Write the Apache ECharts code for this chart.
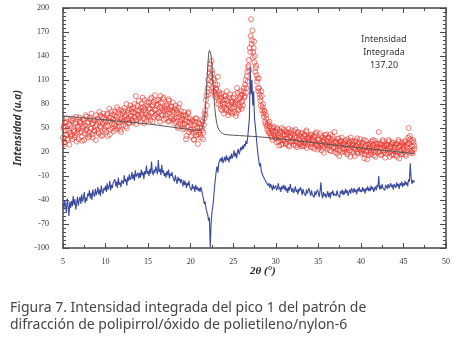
<!DOCTYPE html>
<html>
<head>
<meta charset="utf-8">
<script src="https://cdn.jsdelivr.net/npm/echarts@6/dist/echarts.min.js"></script>
<style>
  html, body { margin: 0; padding: 0; background: #fff; }
  #chart { width: 456px; height: 345px; }
</style>
</head>
<body>
<div id="chart"></div>
<script>
// rejilla de 2θ: los puntos van cada 0.1 grados desde 5.0
var xStart = 5.0;
var xStep = 0.1;
var xTicks = [5, 10, 15, 20, 25, 30, 35, 40, 45, 50];
var yTicks = [-100, -70, -40, -10, 20, 50, 80, 110, 140, 170, 200];

// circulos rojos (dos pasadas, la segunda desplazada 0.05)
var redA = [
  38,52,30,47,58,41,35,55,44,60,
  50,36,62,45,41,57,33,52,48,63,
  44,58,39,61,50,35,53,47,64,42,
  57,40,63,49,55,38,60,46,52,66,
  48,62,43,58,66,51,40,57,63,47,
  60,45,68,52,63,42,58,71,50,61,
  55,70,48,64,58,73,52,66,45,62,
  68,54,75,60,66,50,72,62,57,78,
  61,74,57,70,80,63,55,72,66,84,
  72,58,80,65,76,62,85,70,59,78,
  66,82,74,60,88,70,79,63,91,72,
  78,64,85,70,58,82,75,66,88,71,
  74,62,80,68,86,59,73,77,64,82,
  70,56,78,63,72,50,68,80,58,66,
  62,48,70,55,66,40,58,68,45,62,
  55,40,60,48,35,58,45,62,50,42,
  45,55,38,50,58,44,62,72,85,78,
  100,92,118,130,108,122,100,112,95,104,
  98,88,114,84,92,78,88,72,85,68,
  80,90,74,84,66,78,92,70,82,75,
  88,70,80,65,84,94,72,86,77,90,
  74,84,96,88,104,94,115,108,128,122,
  145,186,160,138,150,132,120,128,108,100,
  112,92,84,96,72,80,64,70,55,62,
  48,56,44,52,40,47,35,50,42,38,
  45,32,48,38,28,44,36,50,30,42,
  34,46,30,41,37,49,27,40,44,33,
  42,29,38,48,33,26,45,36,31,43,
  30,44,37,27,40,33,47,29,38,35,
  38,26,42,31,35,24,40,30,45,28,
  27,36,43,30,22,38,33,26,41,29,
  34,24,38,28,42,21,32,36,26,45,
  25,33,18,30,37,22,28,34,20,31,
  30,20,35,24,17,29,33,22,38,26,
  21,31,25,15,34,27,20,30,24,36,
  28,18,32,22,12,26,34,20,29,16,
  22,30,17,27,35,20,25,14,31,24,
  27,45,20,30,16,25,33,19,28,22,
  18,29,24,33,14,27,21,31,17,26,
  25,16,30,20,35,12,27,22,32,18,
  28,20,34,15,26,31,50,24,36,19,
  27,18,32,24
];
var redB = [
  50,33,56,42,62,37,48,29,53,40,
  42,59,47,38,55,64,44,51,36,58,
  56,46,34,52,60,43,66,49,57,38,
  45,61,50,68,42,56,47,59,35,54,
  60,45,70,52,41,64,55,68,49,58,
  52,66,40,59,74,48,63,55,67,46,
  66,52,60,76,50,69,57,48,72,59,
  58,71,64,52,80,61,69,56,74,65,
  70,59,76,64,68,90,60,78,71,62,
  64,76,68,88,72,56,74,67,82,63,
  75,64,86,69,78,58,82,73,66,84,
  68,80,62,76,90,67,73,86,60,77,
  66,78,71,58,84,69,62,76,72,60,
  62,74,58,69,52,76,64,55,71,60,
  55,66,50,60,36,63,52,70,57,48,
  48,58,44,36,54,62,41,52,30,56,
  51,42,60,47,36,54,68,66,90,95,
  110,104,125,115,134,118,96,110,90,100,
  92,104,80,95,86,74,93,80,76,90,
  86,72,96,80,70,88,76,85,68,83,
  76,92,82,68,100,80,74,88,96,82,
  92,78,100,90,110,100,120,126,135,150,
  165,155,172,145,158,140,125,116,112,96,
  100,88,78,90,76,68,72,58,66,52,
  54,46,58,43,50,38,45,52,40,46,
  37,50,41,33,47,39,29,45,35,48,
  42,31,45,36,28,44,39,33,47,35,
  33,46,40,28,38,44,30,41,35,27,
  39,28,34,42,31,45,25,37,32,40,
  30,41,35,26,39,33,43,29,36,23,
  35,25,31,40,28,34,19,37,30,42,
  27,38,31,22,35,29,40,25,33,20,
  32,23,36,27,15,33,29,38,24,30,
  23,33,28,19,36,25,31,14,29,34,
  29,19,33,23,28,37,18,26,32,22,
  20,31,24,35,17,28,22,11,30,25,
  27,19,33,23,29,16,34,21,26,30,
  20,31,25,17,29,35,22,27,13,30,
  28,21,35,19,25,30,16,32,22,29,
  21,30,14,26,33,20,28,17,30,25,
  23,32,17,29,22,38,30,40,21,33,
  22,35,28
];

// linea azul (diferencia)
var blue = [
  -44,-52,-40,-48,-56,-38,-47,-60,-42,-50,
  -41,-48,-35,-46,-39,-52,-44,-36,-47,-40,
  -36,-45,-33,-42,-38,-30,-44,-37,-41,-32,
  -35,-28,-38,-31,-40,-27,-33,-36,-26,-34,
  -30,-24,-33,-27,-35,-22,-29,-32,-25,-28,
  -22,-30,-19,-27,-24,-16,-28,-21,-25,-18,
  -20,-14,-23,-17,-25,-12,-21,-18,-24,-15,
  -13,-20,-9,-17,-14,-22,-11,-16,-8,-15,
  -12,-5,-14,-8,-16,-3,-11,-9,-6,-13,
  -6,-12,-2,-9,-5,-14,-4,-8,3,-7,
  -4,-10,-1,-7,8,-5,-9,-2,-6,2,
  -3,-8,10,-5,-1,-9,4,-6,-3,-10,
  -6,-12,-4,-9,-2,-13,-7,-10,-5,-11,
  -12,-17,-9,-15,-20,-11,-16,-13,-19,-14,
  -18,-23,-15,-21,-17,-25,-19,-22,-16,-24,
  -22,-28,-20,-26,-23,-30,-21,-27,-24,-29,
  -25,-30,-24,-28,-34,-38,-45,-42,-50,-55,
  -58,-66,-62,-100,-70,-55,-48,-38,-24,-14,
  -4,2,-6,6,4,12,8,14,6,10,
  14,8,16,10,13,7,15,11,18,12,
  16,22,14,19,12,20,24,17,21,26,
  22,28,24,30,27,34,30,38,50,62,
  125,92,110,78,96,62,52,40,28,18,
  10,2,6,-4,-2,-10,-8,-14,-12,-18,
  -17,-22,-19,-25,-20,-23,-28,-21,-26,-24,
  -22,-28,-25,-19,-27,-24,-30,-23,-26,-21,
  -27,-22,-29,-25,-31,-24,-28,-20,-26,-30,
  -25,-31,-28,-23,-30,-27,-33,-26,-29,-24,
  -28,-34,-26,-31,-29,-35,-27,-32,-30,-25,
  -30,-35,-28,-33,-31,-37,-29,-34,-32,-27,
  -31,-36,-29,-18,-33,-38,-30,-35,-32,-37,
  -34,-29,-36,-31,-38,-30,-33,-28,-35,-32,
  -30,-35,-28,-33,-31,-37,-29,-32,-27,-34,
  -29,-33,-26,-31,-28,-35,-30,-27,-32,-25,
  -28,-31,-25,-30,-27,-33,-26,-29,-24,-30,
  -27,-30,-24,-29,-26,-32,-25,-28,-23,-29,
  -25,-29,-22,-27,-24,-30,-26,-23,-28,-21,
  -24,-10,-27,-22,-26,-20,-25,-23,-28,-21,
  -22,-26,-20,-25,-23,-19,-24,-21,-27,-20,
  -21,-25,-18,-23,-20,-26,-19,-22,-17,-24,
  -19,-22,-16,-21,-18,-23,-14,-17,6,-12,
  -20,-15,-18,-16
];

// ajuste (linea negra)
var fitX = [5, 10, 15, 20, 21, 21.3, 21.6, 21.8, 22.0, 22.2, 22.4, 22.6, 22.8, 23.0, 23.2, 23.5, 24, 25, 28, 30, 35, 40, 46.3];
var fitY = [65, 60, 55, 48, 47, 48, 60, 85, 125, 147, 140, 110, 80, 60, 51, 45, 42, 41, 39, 37, 31, 25, 18];

function toPairs(arr, x0) {
  return arr.map(function (v, i) { return [+(x0 + i * xStep).toFixed(2), v]; });
}
var redData = toPairs(redA, xStart).concat(toPairs(redB, xStart + 0.05));
var blueData = toPairs(blue, xStart);
var fitData = fitX.map(function (x, i) { return [x, fitY[i]]; });

var chart = echarts.init(document.getElementById('chart'));
var axisCol = '#4a4a4a';
var lblFont = { fontFamily: 'Liberation Serif', fontSize: 8, color: '#333' };

function xAx(pos, show) {
  return {
    type: 'value', position: pos, min: 5, max: 50, interval: 5,
    axisLine: { onZero: false, lineStyle: { color: axisCol, width: 1.5 } },
    axisTick: { inside: true, length: 5, lineStyle: { color: axisCol } },
    minorTick: { show: true, splitNumber: 2, length: 3, lineStyle: { color: axisCol } },
    axisLabel: Object.assign({ show: show, margin: 10 }, lblFont),
    splitLine: { show: false }
  };
}
function yAx(pos, show) {
  return {
    type: 'value', position: pos, min: -100, max: 200, interval: 30,
    axisLine: { onZero: false, lineStyle: { color: axisCol, width: 1.5 } },
    axisTick: { inside: true, length: 6, lineStyle: { color: axisCol } },
    minorTick: { show: true, splitNumber: 6, length: 3, lineStyle: { color: axisCol } },
    axisLabel: Object.assign({ show: show, margin: 14 }, lblFont),
    splitLine: { show: false },
    name: show ? 'Intensidad (u.a)' : '',
    nameLocation: 'middle',
    nameGap: 38,
    nameTextStyle: { fontFamily: 'Noto Sans', fontStyle: 'italic', fontWeight: 'bold', fontSize: 10, color: '#333' }
  };
}

chart.setOption({
  animation: false,
  grid: { left: 63, right: 10, top: 8, bottom: 97 },
  xAxis: [xAx('bottom', true), xAx('top', false)],
  yAxis: [yAx('left', true), yAx('right', false)],
  series: [
    {
      type: 'scatter', data: redData, symbol: 'circle', symbolSize: 5,
      itemStyle: { color: 'rgba(255,255,255,0)', borderColor: '#e8362c', borderWidth: 0.8 },
      silent: true, z: 2
    },
    {
      type: 'line', data: fitData, showSymbol: false, smooth: 0.3,
      lineStyle: { color: '#555', width: 1 }, silent: true, z: 3
    },
    {
      type: 'line', data: blueData, showSymbol: false,
      lineStyle: { color: '#3a4a9e', width: 1.1 }, silent: true, z: 4
    }
  ],
  graphic: [
    {
      type: 'text', x: 384, y: 33,
      style: {
        text: 'Intensidad\nIntegrada\n137.20', align: 'center',
        font: '9px "Noto Sans"', lineHeight: 13, fill: '#333'
      }
    },
    {
      type: 'text', x: 250, y: 266,
      style: { text: '2θ (°)', font: 'italic bold 11px "Liberation Serif"', fill: '#222' }
    },
    {
      type: 'text', x: 10, y: 300,
      style: {
        text: 'Figura 7. Intensidad integrada del pico 1 del patrón de\ndifracción de polipirrol/óxido de polietileno/nylon-6',
        font: '14px "Noto Sans"', lineHeight: 17, fill: '#444'
      }
    }
  ]
});
</script>
</body>
</html>
